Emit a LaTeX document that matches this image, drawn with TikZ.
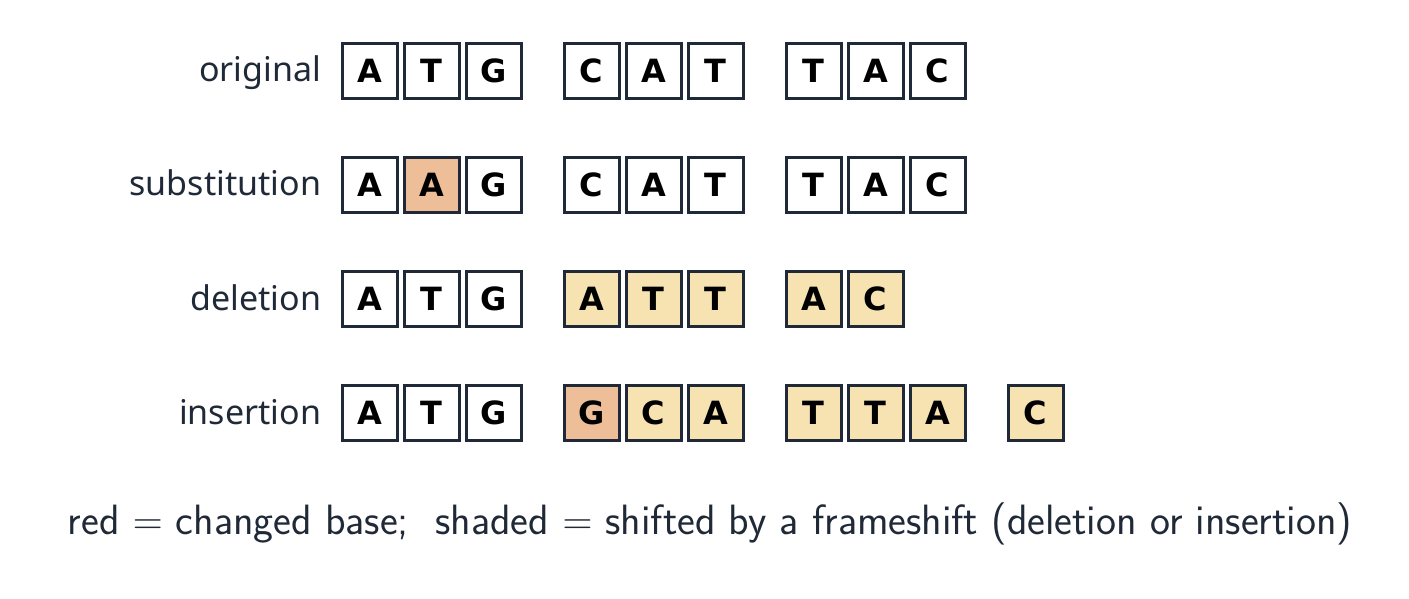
\documentclass[tikz,border=0pt]{standalone}
\usepackage{fontspec}
\newfontfamily\labelfont{Noto Sans}
\newfontfamily\basefont{DejaVu Sans}
\usepackage{xcolor}
\definecolor{darkslate}{HTML}{1F2937}
\definecolor{changedorange}{HTML}{EDBE97}
\definecolor{shiftedyellow}{HTML}{F7E3B2}
\usepackage{tikz}
\newcommand{\widthbase}{31pt}
\newcommand{\widthgroup}{49pt}
\tikzset{
    common/.style={anchor=west, draw=darkslate, rectangle, line width=1.5pt, minimum size=27.5pt, inner sep=0pt},
    base/.style={common, font=\basefont\bfseries\fontsize{16}{18}\selectfont},
    changed/.style={base, fill=changedorange},
    shifted/.style={base, fill=shiftedyellow},
    rowname/.style={anchor=base east, inner sep=0pt, xshift=-9.5pt, yshift=-5.5pt, text=darkslate, font=\labelfont\fontsize{17}{19}\selectfont},
    caption/.style={anchor=base, inner sep=0pt, text=darkslate, font=\sffamily\fontsize{21.2}{24}\selectfont}
}

\begin{document}
\begin{tikzpicture}
\useasboundingbox (0pt,0pt) rectangle (704.5pt,-299.5pt);
% original
\path (170.25pt,-35.5pt) node[rowname] (name1) {original}
    to ++(0:0pt) node[base] (o1) {A}
    to ++(0:\widthbase) node[base] (o2) {T}
    to ++(0:\widthbase) node[base] (o3) {G}
    to ++(0:\widthgroup) node[base] (o4) {C}
    to ++(0:\widthbase) node[base] (o5) {A}
    to ++(0:\widthbase) node[base] (o6) {T}
    to ++(0:\widthgroup) node[base] (o7) {T}
    to ++(0:\widthbase) node[base] (o8) {A}
    to ++(0:\widthbase) node[base] (o9) {C};
% substitution
\path (170.25pt,-92.5pt) node[rowname] (name2) {substitution}
    to ++(0:0pt) node[base] (s1) {A}
    to ++(0:\widthbase) node[changed] (s2) {A}
    to ++(0:\widthbase) node[base] (s3) {G}
    to ++(0:\widthgroup) node[base] (s4) {C}
    to ++(0:\widthbase) node[base] (s5) {A}
    to ++(0:\widthbase) node[base] (s6) {T}
    to ++(0:\widthgroup) node[base] (s7) {T}
    to ++(0:\widthbase) node[base] (s8) {A}
    to ++(0:\widthbase) node[base] (s9) {C};
% deletion
\path (170.25pt,-149.5pt) node[rowname] (name3) {deletion}
    to ++(0:0pt) node[base] (d1) {A}
    to ++(0:\widthbase) node[base] (d2) {T}
    to ++(0:\widthbase) node[base] (d3) {G}
    to ++(0:\widthgroup) node[shifted] (d4) {A}
    to ++(0:\widthbase) node[shifted] (d5) {T}
    to ++(0:\widthbase) node[shifted] (d6) {T}
    to ++(0:\widthgroup) node[shifted] (d7) {A}
    to ++(0:\widthbase) node[shifted] (d8) {C};
% insertion
\path (170.25pt,-206.5pt) node[rowname] (name4) {insertion}
    to ++(0:0pt) node[base] (i1) {A}
    to ++(0:\widthbase) node[base] (i2) {T}
    to ++(0:\widthbase) node[base] (i3) {G}
    to ++(0:\widthgroup) node[changed] (i4) {G}
    to ++(0:\widthbase) node[shifted] (i5) {C}
    to ++(0:\widthbase) node[shifted] (i6) {A}
    to ++(0:\widthgroup) node[shifted] (i7) {T}
    to ++(0:\widthbase) node[shifted] (i8) {T}
    to ++(0:\widthbase) node[shifted] (i9) {A}
    to ++(0:\widthgroup) node[shifted] (i10) {C};

\node[caption] (note) at (355pt,-267pt) {red $=$ changed base;\ \ shaded $=$ shifted by a frameshift (deletion or insertion)};
\end{tikzpicture}
\end{document}
